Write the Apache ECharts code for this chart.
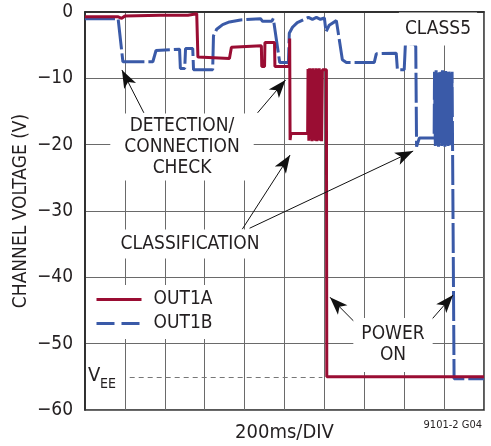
<!DOCTYPE html>
<html>
<head>
<meta charset="utf-8">
<script src="https://cdn.jsdelivr.net/npm/echarts@6/dist/echarts.min.js"></script>
<style>
html,body{margin:0;padding:0;background:#fff;}
#c{width:491px;height:446px;}
</style>
</head>
<body>
<div id="c"></div>
<script>
// ---- data (x in divisions of 200ms, y in volts) ----
const yTicks = [0, -10, -20, -30, -40, -50, -60];
const VEE = -55;
const out1A = [
  [0,-0.7],[0.82,-0.7],[0.92,-0.95],[1.0,-0.6],[1.88,-0.5],[2.58,-0.5],[2.62,-0.25],[2.8,-0.25],
  [2.83,-6.8],[3.62,-7.0],[3.67,-5.3],[4.42,-5.1],[4.43,-8.2],[4.5,-8.2],[4.51,-4.6],[4.75,-4.6],
  [4.76,-8.2],[5.12,-8.2],[5.13,-4.0],[5.14,-19.3],[5.16,-18.3],[5.58,-18.3],
  [5.59,-8.6],[5.61,-19.4],[5.63,-8.5],[5.65,-19.2],[5.67,-8.6],[5.69,-19.5],[5.71,-8.5],[5.73,-19.3],
  [5.75,-8.7],[5.77,-19.4],[5.79,-8.5],[5.81,-19.5],[5.83,-8.6],[5.85,-19.3],[5.87,-8.5],[5.89,-19.4],
  [5.91,-8.7],[5.93,-19.5],[5.95,-8.7],[6.05,-8.7],[6.06,-55],[10,-55]
];
const out1B = [
  [0,-1.0],[0.83,-1.0],[0.95,-7.5],[1.7,-7.5],[1.78,-5.8],[2.37,-5.6],[2.39,-8.5],[2.5,-8.5],
  [2.52,-5.5],[2.7,-5.5],[2.72,-8.7],[3.2,-8.7],[3.22,-3.6],[3.3,-2.6],[3.45,-1.9],[3.62,-1.5],
  [3.9,-1.2],[4.4,-1.0],[4.45,-1.4],[4.68,-1.4],[4.72,-1.0],[4.75,-1.1],[4.88,-7.6],[5.1,-7.6],
  [5.12,-3.2],[5.2,-2.3],[5.32,-1.6],[5.5,-1.1],[5.6,-0.8],[5.7,-1.1],[5.8,-0.8],[5.9,-1.1],
  [6.0,-0.9],[6.04,-3.0],[6.12,-2.0],[6.3,-1.3],[6.33,-1.5],[6.45,-7.2],[6.55,-7.6],[7.25,-7.6],
  [7.3,-6.3],[7.32,-6.2],[7.8,-6.2],[7.83,-8.7],[8.0,-8.7],[8.03,-4.8],[8.25,-4.8],[8.29,-5.2],
  [8.31,-20.3],[8.38,-19.0],[8.75,-19.0],
  [8.76,-9.0],[8.78,-20.2],[8.80,-8.8],[8.82,-20.0],[8.84,-9.2],[8.86,-20.3],[8.88,-8.9],[8.90,-19.8],
  [8.92,-9.0],[8.94,-20.2],[8.96,-8.8],[8.98,-20.0],[9.00,-9.1],[9.02,-20.3],[9.04,-8.9],[9.06,-19.9],
  [9.08,-9.0],[9.10,-20.2],[9.12,-8.8],[9.14,-20.0],[9.16,-9.2],[9.18,-20.1],[9.20,-9.0],[9.24,-9.0],
  [9.25,-55.3],[10,-55.3]
];
// annotation arrows: [tail, tip] in data coordinates
const arrows = [
  [[1.475,-15.2],[0.925,-8.74]],
  [[4.325,-15.2],[5.025,-10.25]],
  [[3.94,-32.76],[5.14,-21.56]],
  [[4.125,-32.6],[8.225,-20.96]],
  [[6.75,-46.7],[6.14,-43.0]],
  [[8.61,-46.9],[9.225,-42.67]]
];
const veeSpan = [1.12, 5.95];

const FONT = "'Liberation Sans Narrow','Arial Narrow','DejaVu Sans Condensed',sans-serif";
const TXT = '#231f20';
const RED = '#9a0d33';
const BLUE = '#3a5aa8';

const chart = echarts.init(document.getElementById('c'), null, {renderer:'canvas'});

function txt(text, x, y, opts) {
  return {
    type:'text', x:x, y:y, z:50,
    style: Object.assign({
      text:text, fill:TXT, fontFamily:FONT, fontSize:19, lineHeight:21,
      align:'center', verticalAlign:'middle', backgroundColor:'#fff', padding:[3,8]
    }, opts || {})
  };
}

chart.setOption({
  animation:false,
  backgroundColor:'#fff',
  grid:{left:85, right:7, top:12, bottom:36, containLabel:false, outerBoundsMode:'none',
        show:true, borderColor:'#222', borderWidth:1.5, backgroundColor:'transparent'},
  xAxis:{
    type:'value', min:0, max:10, interval:1,
    axisLabel:{show:false}, axisTick:{show:false},
    axisLine:{show:true, lineStyle:{color:'#222', width:1.5}},
    splitLine:{show:true, lineStyle:{color:'#6a6a6a', width:1}},
    name:'200ms/DIV', nameLocation:'middle', nameGap:13,
    nameTextStyle:{fontFamily:FONT, fontSize:20, color:TXT}
  },
  yAxis:{
    type:'value', min:-60, max:0, interval:10,
    axisTick:{show:false},
    axisLine:{show:true, lineStyle:{color:'#222', width:1.5}},
    splitLine:{show:true, lineStyle:{color:'#6a6a6a', width:1}},
    axisLabel:{margin:12, fontFamily:FONT, fontSize:19, color:TXT,
      formatter:function(v){ return v < 0 ? '\u2212' + Math.abs(v) : String(v); }},
    name:'CHANNEL VOLTAGE (V)', nameLocation:'middle', nameGap:54, nameRotate:90,
    nameMoveOverlap:false,
    nameTextStyle:{fontFamily:FONT, fontSize:19, color:TXT}
  },
  legend:{
    orient:'vertical', left:88, top:285, itemWidth:45, itemHeight:14, itemGap:5,
    backgroundColor:'#fff', padding:[5,8,6,7],
    textStyle:{fontFamily:FONT, fontSize:19, color:TXT, padding:[0,0,0,7]},
    itemStyle:{opacity:0},
    data:[
      {name:'OUT1A', itemStyle:{opacity:0}, lineStyle:{color:RED, width:3, type:'solid'}},
      {name:'OUT1B', itemStyle:{opacity:0}, lineStyle:{color:BLUE, width:3, type:[18,7]}}
    ]
  },
  series:[
    {
      name:'annot', type:'line', data:[], silent:true, z:6,
      markLine:{
        silent:true, symbol:['none','arrow'], symbolSize:[10,18],
        label:{show:false},
        lineStyle:{color:'#111', width:1, type:'solid'},
        data: arrows.map(function(a){ return [{coord:a[0]},{coord:a[1]}]; })
      }
    },
    {
      name:'vee', type:'line', data:[], silent:true, z:1,
      markLine:{
        silent:true, symbol:['none','none'], label:{show:false},
        lineStyle:{color:'#777', width:1.2, type:[5,4]},
        data:[[{coord:[veeSpan[0],VEE]},{coord:[veeSpan[1],VEE]}]]
      }
    },
    {
      name:'OUT1B', type:'line', data:out1B, symbol:'none', showSymbol:false, z:3,
      itemStyle:{color:BLUE},
      lineStyle:{color:BLUE, width:3, type:[30,4]}
    },
    {
      name:'OUT1A', type:'line', data:out1A, symbol:'none', showSymbol:false, z:4,
      itemStyle:{color:RED},
      lineStyle:{color:RED, width:3}
    }
  ],
  graphic:[
    txt('DETECTION/\nCONNECTION\nCHECK', 182, 147, {padding:[2,14]}),
    txt('CLASSIFICATION', 190, 244, {padding:[4,6]}),
    txt('CLASS5', 438, 29, {padding:[6,6]}),
    txt('POWER\nON', 393, 345, {padding:[6,8]}),
    {type:'rect', z:40, shape:{x:86, y:356, width:34, height:36}, style:{fill:'#fff'}},
    {type:'text', z:50, x:88, y:376, style:{text:'V', fill:TXT, fontFamily:FONT, fontSize:20, align:'left', verticalAlign:'middle'}},
    {type:'text', z:50, x:100, y:384, style:{text:'EE', fill:TXT, fontFamily:FONT, fontSize:14, align:'left', verticalAlign:'middle'}},
    {type:'text', z:50, x:482, y:425, style:{text:'9101-2 G04', fill:TXT, fontFamily:FONT, fontSize:11, align:'right', verticalAlign:'middle'}}
  ]
});
</script>
</body>
</html>
